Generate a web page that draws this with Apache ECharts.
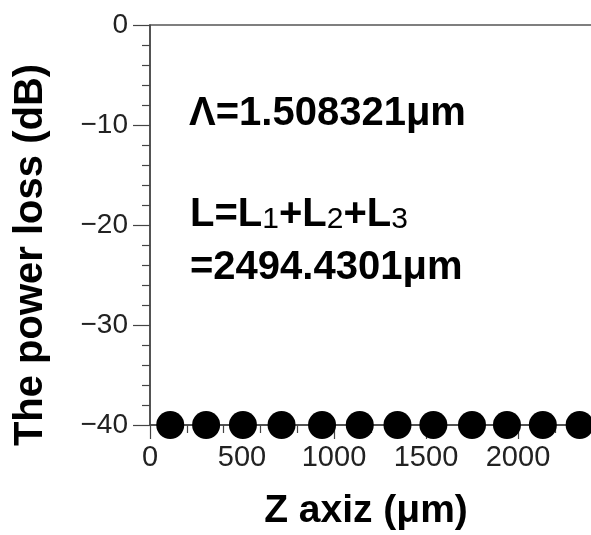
<!DOCTYPE html>
<html>
<head>
<meta charset="utf-8">
<script src="https://cdn.jsdelivr.net/npm/echarts@6/dist/echarts.min.js"></script>
<style>
  html, body { margin: 0; padding: 0; background: #fff; }
  #chart { width: 591px; height: 535px; }
</style>
</head>
<body>
<div id="chart"></div>
<script>
const zPos = [110, 305, 505, 715, 935, 1140, 1345, 1540, 1750, 1940, 2135, 2335];
const loss = [-40, -40, -40, -40, -40, -40, -40, -40, -40, -40, -40, -40];

const xName = 'Z axiz (μm)';
const yName = 'The power loss (dB)';

const axisColor = '#444';
const labelFont = 'Liberation Sans';

let chart = echarts.init(document.getElementById('chart'));

chart.setOption({
  backgroundColor: '#fff',
  animation: false,
  grid: {
    left: 150,
    top: 25,
    width: 460, // plot box runs past the right edge of the picture
    bottom: 110,
    outerBoundsMode: 'none',
    containLabel: false,
    show: true,
    borderColor: '#555',
    borderWidth: 1.5
  },
  xAxis: {
    type: 'value',
    min: 0,
    max: 2500,
    interval: 500,
    axisLine: { onZero: false, lineStyle: { color: axisColor, width: 1.5 } },
    axisTick: { inside: false, length: 14, lineStyle: { color: axisColor, width: 1.2 } },
    minorTick: { show: true, splitNumber: 5, length: 8, lineStyle: { color: axisColor, width: 1.2 } },
    splitLine: { show: false },
    axisLabel: {
      margin: 18,
      showMaxLabel: false,
      fontFamily: labelFont,
      fontSize: 29,
      color: '#222',
      formatter: function (v) {
        return v > 2400 ? '' : String(v);
      }
    }
  },
  yAxis: {
    type: 'value',
    min: -40,
    max: 0,
    interval: 10,
    axisLine: { onZero: false, lineStyle: { color: axisColor, width: 1.5 } },
    axisTick: { inside: false, length: 17, lineStyle: { color: axisColor, width: 1.2 } },
    minorTick: { show: true, splitNumber: 5, length: 8, lineStyle: { color: axisColor, width: 1.2 } },
    splitLine: { show: false },
    axisLabel: {
      margin: 22,
      fontFamily: labelFont,
      fontSize: 28,
      color: '#222',
      formatter: function (v) {
        return String(v).replace('-', '\u2212');
      }
    }
  },
  series: [{
    type: 'scatter',
    data: zPos.map((z, i) => [z, loss[i]]),
    symbol: 'circle',
    symbolSize: 28,
    clip: false,
    itemStyle: { color: '#000', opacity: 1 },
    z: 5
  }],
  graphic: [
    {
      type: 'text',
      x: 31,
      y: 255,
      rotation: Math.PI / 2,
      style: {
        text: yName,
        font: 'bold 40px "Liberation Sans"',
        fill: '#000',
        align: 'center',
        verticalAlign: 'middle'
      }
    },
    {
      type: 'text',
      x: 366,
      y: 511,
      style: {
        text: xName,
        font: 'bold 39px "Liberation Sans"',
        fill: '#000',
        align: 'center',
        verticalAlign: 'middle'
      }
    },
    {
      type: 'text',
      x: 189,
      y: 114,
      style: {
        text: 'Λ=1.508321μm',
        font: 'bold 40px "Liberation Sans"',
        fill: '#000',
        align: 'left',
        verticalAlign: 'middle'
      }
    },
    {
      type: 'text',
      x: 190,
      y: 213,
      style: {
        text: '{b|L=L}{s|1}{b|+L}{s|2}{b|+L}{s|3}',
        align: 'left',
        verticalAlign: 'middle',
        rich: {
          b: { font: 'bold 40px "Liberation Sans"', fill: '#000', verticalAlign: 'bottom', lineHeight: 44 },
          s: { font: '30px "Liberation Sans"', fill: '#000', verticalAlign: 'bottom', lineHeight: 44 }
        }
      }
    },
    {
      type: 'text',
      x: 190,
      y: 268,
      style: {
        text: '=2494.4301μm',
        font: 'bold 40px "Liberation Sans"',
        fill: '#000',
        align: 'left',
        verticalAlign: 'middle'
      }
    }
  ]
});
</script>
</body>
</html>
